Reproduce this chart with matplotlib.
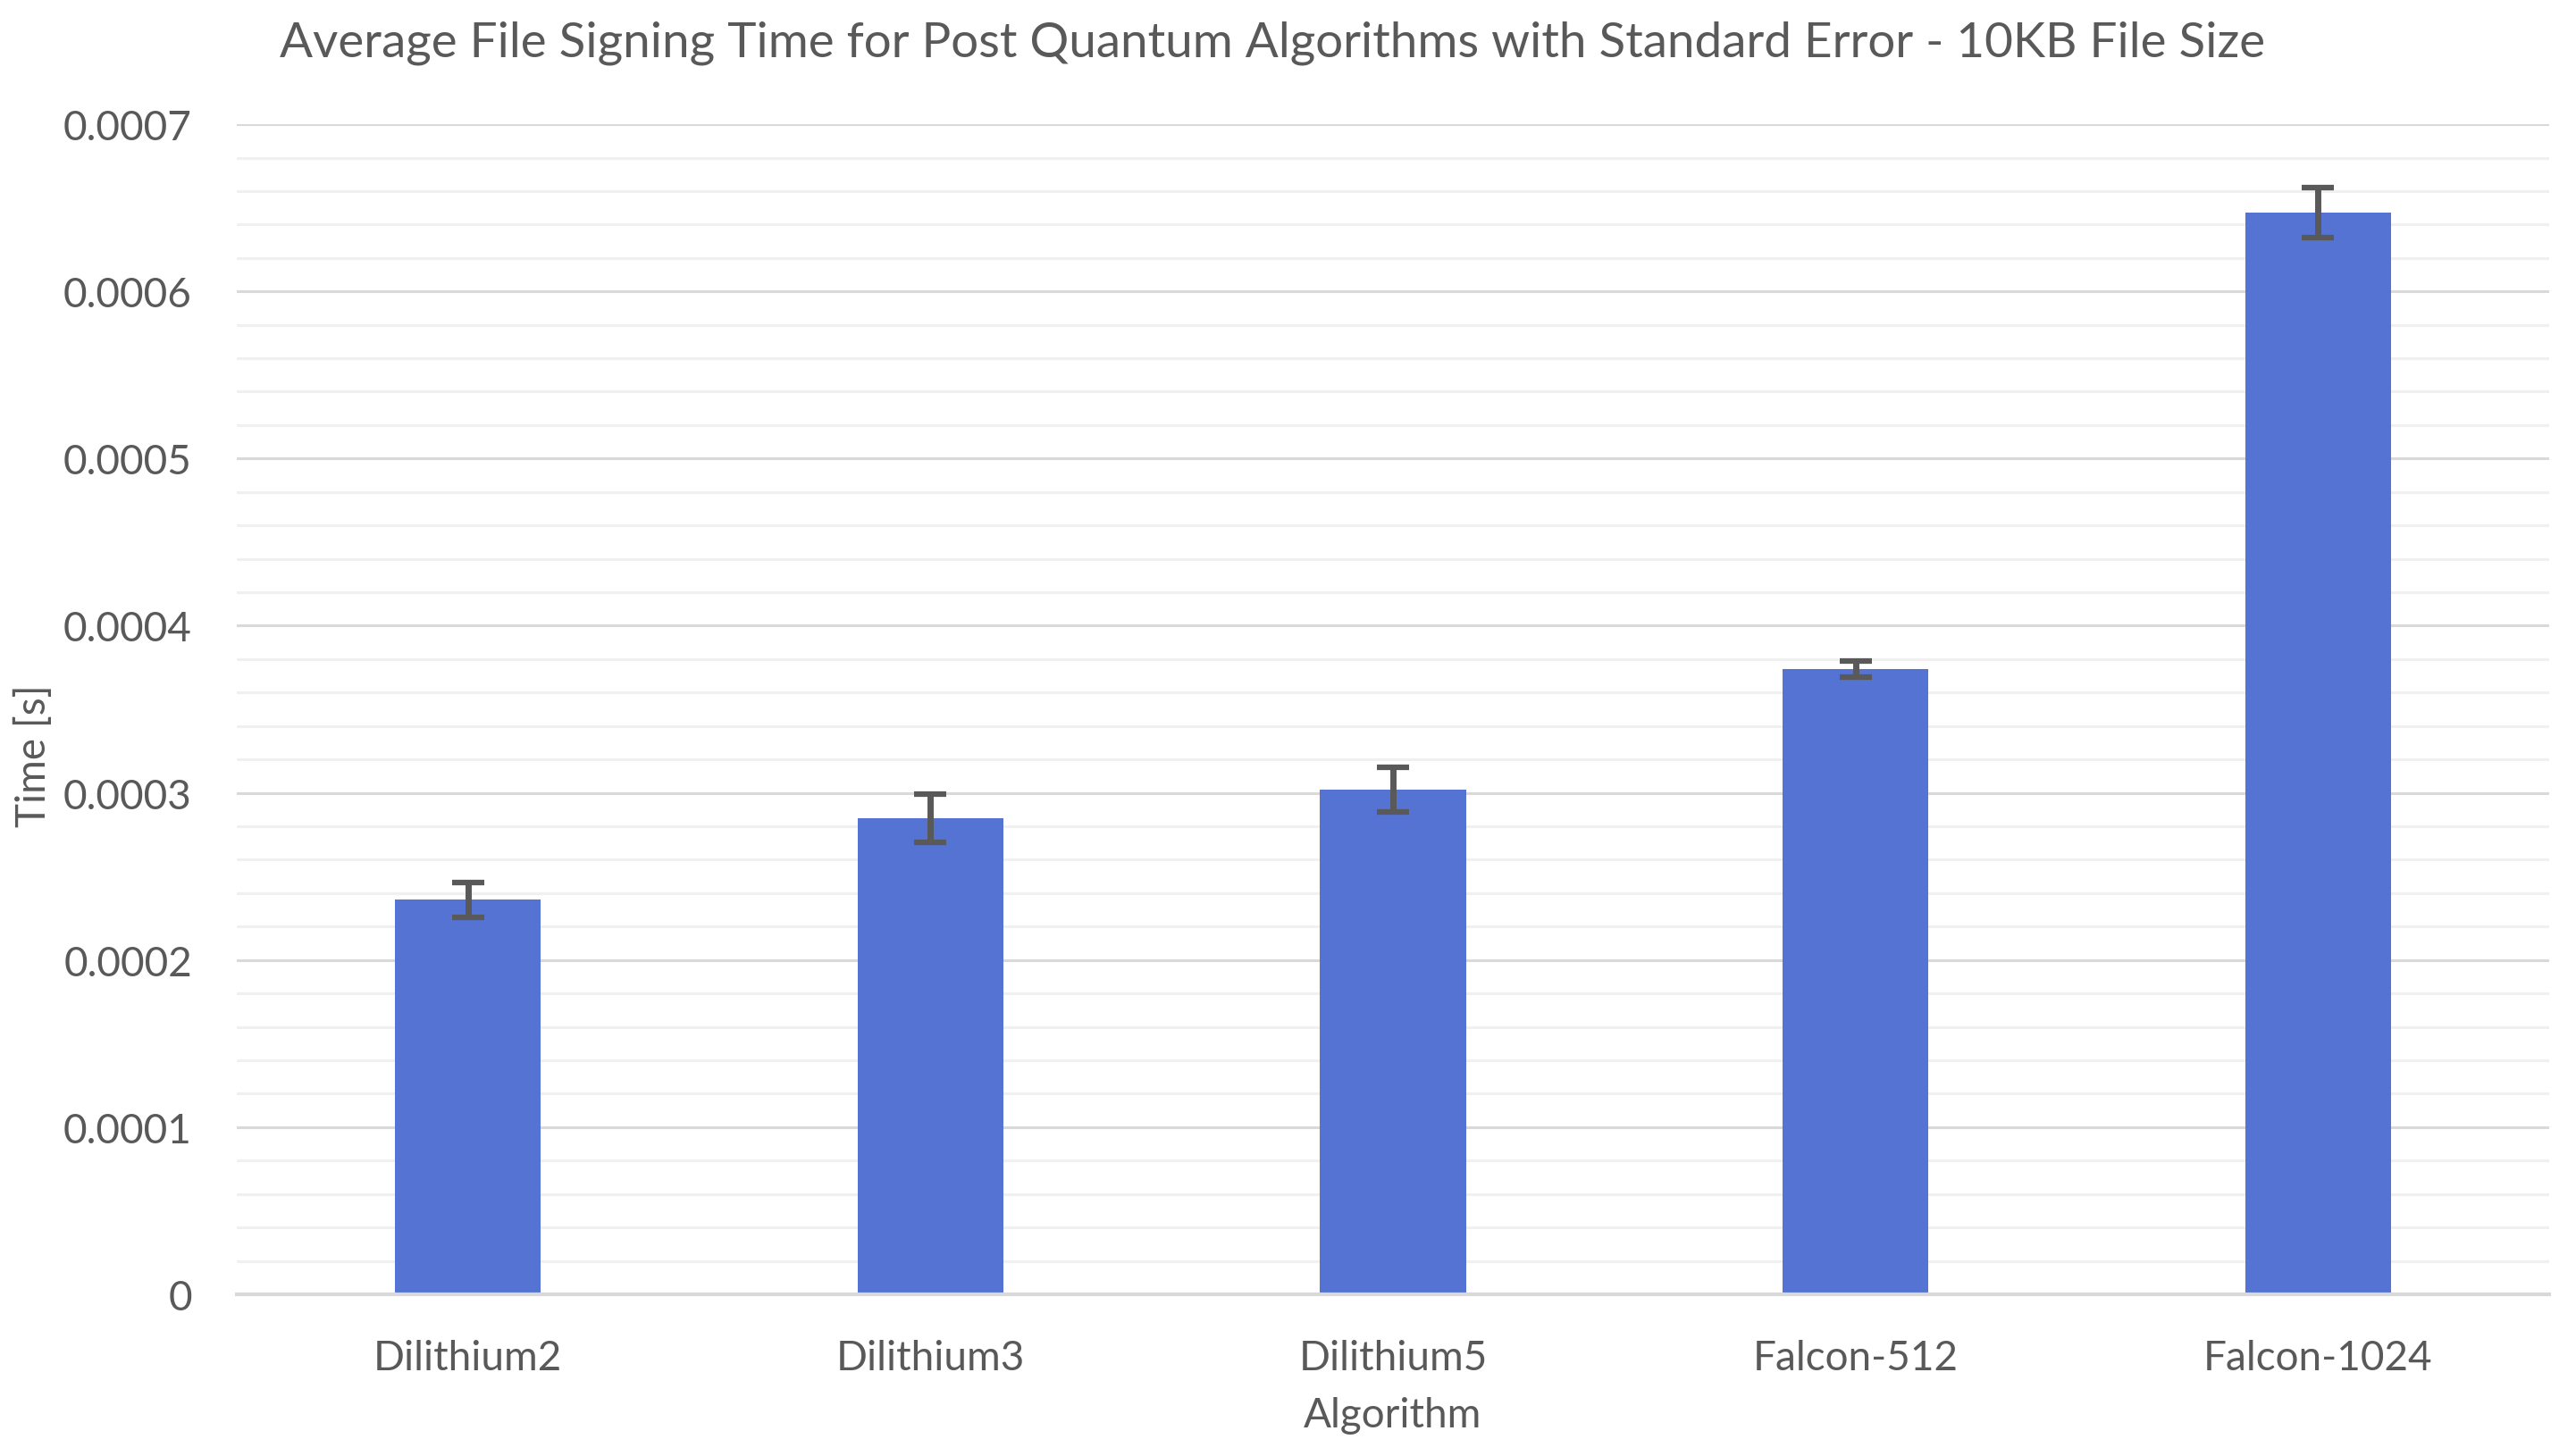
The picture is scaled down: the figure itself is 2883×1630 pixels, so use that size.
import matplotlib.pyplot as plt
import numpy as np
from matplotlib.ticker import MultipleLocator

# Datos
algorithms = ["Dilithium2", "Dilithium3", "Dilithium5", "Falcon-512", "Falcon-1024"]
sign_time = [0.000236, 0.000285, 0.000302, 0.000374, 0.000647]
std_err = [0.0000104, 0.0000144, 0.0000134, 0.0000047, 0.000015]

text_color = "#595959"
bar_color = "#5573D2"

plt.rcParams['font.family'] = ['Lato', 'DejaVu Sans']

fig = plt.figure(figsize=(28.83, 16.31), dpi=100)
ax = fig.add_axes([0.0919, 0.111, 0.8977, 0.8031])

x = np.arange(len(algorithms))
ax.bar(x, sign_time, width=0.315, color=bar_color, zorder=3)
ax.errorbar(x, sign_time, yerr=std_err, fmt='none', ecolor=text_color,
            elinewidth=5, capsize=13, capthick=4.5, zorder=4)

ax.set_xlim(-0.5, len(algorithms) - 0.5)
ax.set_ylim(0, 0.0007)
ax.yaxis.set_minor_locator(MultipleLocator(0.00002))
ax.set_yticks(np.arange(0, 0.00071, 0.0001))
ax.set_yticklabels(["0"] + [f"{v:.4f}" for v in np.arange(0.0001, 0.00071, 0.0001)])
ax.set_xticks(x)
ax.set_xticklabels(algorithms)

ax.grid(axis='y', which='major', color='#D9D9D9', linewidth=2.2, zorder=0)
ax.grid(axis='y', which='minor', color='#F0F0F0', linewidth=2.2, zorder=0)
for s in ['top', 'right', 'left']:
    ax.spines[s].set_visible(False)
ax.spines['bottom'].set_color('#D9D9D9')
ax.spines['bottom'].set_linewidth(3)
ax.spines['bottom'].set_zorder(5)

ax.tick_params(axis='both', which='both', length=0, colors=text_color, labelsize=33)
ax.tick_params(axis='y', pad=36)
ax.tick_params(axis='x', pad=36)

ax.set_xlabel("Algorithm", fontsize=33, color=text_color, va='center')
ax.set_ylabel("Time [s]", fontsize=33, color=text_color, va='center')
ax.xaxis.set_label_coords(0.5, -0.103)
ax.yaxis.set_label_coords(-0.088, 0.461)

fig.text(0.494, 0.961, "Average File Signing Time for Post Quantum Algorithms with Standard Error - 10KB File Size",
         ha='center', va='baseline', fontsize=39.4, color=text_color)

fig.savefig("out.png", dpi=100, facecolor='white')
